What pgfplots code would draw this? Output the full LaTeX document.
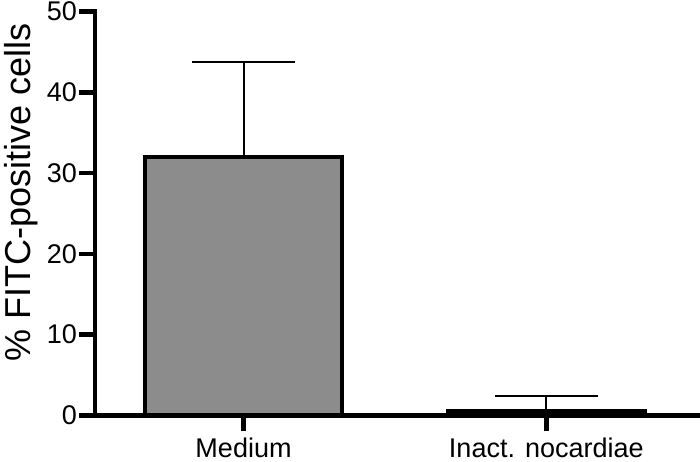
\documentclass[border=0pt]{standalone}
\usepackage{fontspec}
\setmainfont{Liberation Sans}
\usepackage{pgfplots}
\pgfplotsset{compat=1.18}
\definecolor{bargray}{HTML}{8C8C8C}

\begin{document}
\begin{tikzpicture}
\begin{axis}[
  scale only axis,width=600bp,height=402bp,
  xmin=-0.49,xmax=1.5,ymin=0,ymax=50,
  axis x line=bottom,axis y line=left,
  axis line style={-,line width=4.5bp,line cap=rect},
  xtick={0,1},xticklabels={Medium,Inact. nocardiae},
  ytick={0,10,20,30,40,50},
  tick align=outside,major tick length=16bp,
  tick style={line width=4.5bp,black},
  tick label style={font=\fontsize{27}{30}\selectfont,inner sep=2bp},
  xticklabel style={inner ysep=4bp,yshift=-2bp},
  /pgf/number format/assume math mode=true,
  ylabel={\% FITC-positive cells},
  ylabel style={font=\fontsize{36}{40}\selectfont,inner xsep=0pt,inner ysep=4bp,
    at={(ticklabel cs:0.552)},yshift=3bp},
  ybar,bar width=196bp,bar shift=0pt,
  clip=false,
]
\addplot[fill=bargray,draw=black,line width=4.5bp,
  error bars/.cd,y dir=plus,y explicit,
  error bar style={line width=2bp,black},
  error mark options={rotate=90,mark size=51bp,line width=2bp,black}]
  coordinates {(0,32.0) +- (0,11.7)};
\addplot[fill=black,draw=black,line width=4.5bp,
  error bars/.cd,y dir=plus,y explicit,
  error bar style={line width=2bp,black},
  error mark options={rotate=90,mark size=51bp,line width=2bp,black}]
  coordinates {(1,0.5) +- (0,1.9)};
\end{axis}
\end{tikzpicture}
\end{document}
